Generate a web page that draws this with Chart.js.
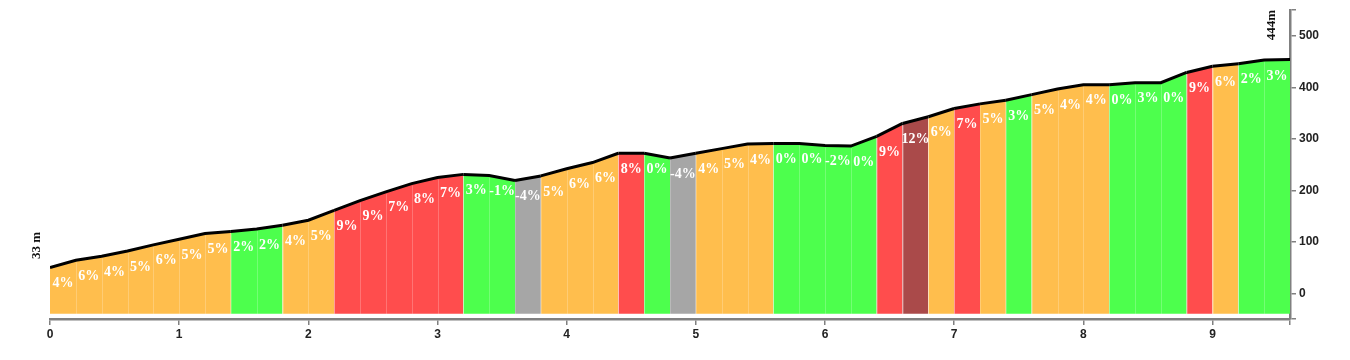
<!DOCTYPE html>
<html>
<head>
<meta charset="utf-8">
<script src="https://cdn.jsdelivr.net/npm/chart.js@4"></script>
<style>
  html, body { margin: 0; padding: 0; background: #fff; }
  #wrap { width: 1350px; height: 360px; }
</style>
</head>
<body>
<div id="wrap"><canvas id="perfil"></canvas></div>
<script>
// distancia em km (pontos a cada 200 m)
const distancias = [0, 0.2, 0.4, 0.6, 0.8, 1, 1.2, 1.4, 1.6, 1.8, 2, 2.2, 2.4, 2.6, 2.8, 3, 3.2, 3.4, 3.6, 3.8, 4, 4.2, 4.4, 4.6, 4.8,
    5, 5.2, 5.4, 5.6, 5.8, 6, 6.2, 6.4, 6.6, 6.8, 7, 7.2, 7.4, 7.6, 7.8, 8, 8.2, 8.4, 8.6, 8.8, 9, 9.2, 9.4, 9.6]

// altitude (m)
const altitudes = [50, 64, 72, 82, 94, 105, 116, 120, 125, 132, 142, 161, 180, 197, 213, 225, 231, 229, 219, 228, 242,
    254, 272, 272, 263, 272, 281, 290, 291, 291, 287, 286, 305, 330, 343, 359, 368, 375, 386, 397, 405, 405, 409, 409,
    429, 441, 446, 453, 454]

// inclinacao de cada trecho
const inclinacoes = [4, 6, 4, 5, 6, 5, 5, 2, 2, 4, 5, 9, 9, 7, 8, 7, 3, -1, -4, 5, 6, 6, 8, 0, -4, 4, 5, 4, 0, 0, -2, 0,
    9, 12, 6, 7, 5, 3, 5, 4, 4, 0, 3, 0, 9, 6, 2, 3]

// categoria de cor de cada trecho
const categorias = ['m', 'm', 'm', 'm', 'm', 'm', 'm', 'f', 'f', 'm', 'm', 'd', 'd', 'd', 'd', 'd', 'f', 'f', 'n', 'm', 'm', 'm', 'd', 'f', 'n',
    'm', 'm', 'm', 'f', 'f', 'f', 'f', 'd', 'x', 'm', 'd', 'm', 'f', 'm', 'm', 'm', 'f', 'f', 'f', 'd', 'm', 'f', 'f']

// ticks do eixo de altitude (-50 e 550 ficam sem texto)
const ticksAltitude = [-50, 0, 100, 200, 300, 400, 500, 550]

const rotuloInicio = '33 m'
const rotuloFim = '444m'

const cores = {
    f: '#4dff4d',
    m: '#ffbe4d',
    d: '#ff4d4d',
    x: '#aa4a4a',
    n: '#a6a6a6'
}

const pontos = distancias.map((d, i) => ({ x: d, y: altitudes[i] }))

const ctx = document.getElementById('perfil')
const fonteSerif = '"Liberation Serif", "Times New Roman", Times, serif'

// rotulos de % e linhas finas entre trechos
const pluginTrechos = {
    id: 'trechos',
    afterDatasetDraw(chart) {
        const { ctx, scales: { x, y } } = chart
        const base = y.getPixelForValue(-40)
        ctx.save()
        ctx.strokeStyle = 'rgba(255,255,255,0.22)'
        ctx.lineWidth = 1
        for (let i = 1; i < distancias.length - 1; i++) {
            const px = Math.round(x.getPixelForValue(distancias[i])) + 0.5
            ctx.beginPath()
            ctx.moveTo(px, base)
            ctx.lineTo(px, y.getPixelForValue(altitudes[i]) + 2)
            ctx.stroke()
        }
        ctx.restore()
    },
    afterDraw(chart) {
        const { ctx, scales: { x, y } } = chart
        ctx.save()
        ctx.fillStyle = '#fff'
        ctx.font = 'bold 14px ' + fonteSerif
        ctx.textAlign = 'center'
        ctx.textBaseline = 'middle'
        inclinacoes.forEach((p, i) => {
            const meio = (distancias[i] + distancias[i + 1]) / 2
            const px = x.getPixelForValue(meio)
            const py = y.getPixelForValue(altitudes[i]) + 16
            ctx.fillText(p + '%', px, py)
        })

        // textos verticais de altitude
        ctx.fillStyle = '#111'
        ctx.font = 'bold 13px ' + fonteSerif
        ctx.translate(37, y.getPixelForValue(altitudes[0]) - 22)
        ctx.rotate(-Math.PI / 2)
        ctx.fillText(rotuloInicio, 0, 0)
        ctx.restore()

        ctx.save()
        ctx.fillStyle = '#111'
        ctx.font = 'bold 13px ' + fonteSerif
        ctx.textAlign = 'center'
        ctx.textBaseline = 'middle'
        ctx.translate(x.getPixelForValue(9.6) - 18, y.top + 15)
        ctx.rotate(-Math.PI / 2)
        ctx.fillText(rotuloFim, 0, 0)
        ctx.restore()
    }
}

const chart = new Chart(ctx, {
    type: 'line',
    data: {
        datasets: [{
            data: pontos,
            borderColor: '#000',
            borderWidth: 3,
            pointRadius: 0,
            tension: 0,
            fill: { value: -40 },
            backgroundColor: cores.m,
            segment: {
                backgroundColor: c => cores[categorias[c.p0DataIndex]]
            }
        }]
    },
    options: {
        responsive: true,
        maintainAspectRatio: false,
        animation: false,
        layout: { padding: { left: 50, top: 5, right: 0, bottom: 0 } },
        plugins: {
            legend: { display: false },
            tooltip: { enabled: false }
        },
        scales: {
            x: {
                type: 'linear',
                min: 0,
                max: 9.6,
                afterFit: s => { s.height = 41 },
                border: { display: true, color: '#808080', width: 2.5 },
                grid: { drawOnChartArea: false, color: '#808080', tickLength: 6, lineWidth: 1.5 },
                ticks: {
                    stepSize: 1,
                    color: '#222',
                    padding: 2,
                    maxRotation: 0,
                    font: { family: '"Liberation Sans", Arial, sans-serif', size: 12, weight: 'bold' },
                    callback: v => Number.isInteger(v) ? v : ''
                }
            },
            y: {
                position: 'right',
                min: -50,
                max: 550,
                afterFit: s => { s.width = 60 },
                afterBuildTicks: s => { s.ticks = ticksAltitude.map(v => ({ value: v })) },
                border: { display: true, color: '#808080', width: 2.5 },
                grid: { drawOnChartArea: false, color: '#808080', tickLength: 6, lineWidth: 1.5 },
                ticks: {
                    color: '#222',
                    padding: 3,
                    autoSkip: false,
                    font: { family: '"Liberation Sans", Arial, sans-serif', size: 12, weight: 'bold' },
                    callback: v => (v % 100 === 0) ? v : ''
                }
            }
        }
    },
    plugins: [pluginTrechos]
})
</script>
</body>
</html>
